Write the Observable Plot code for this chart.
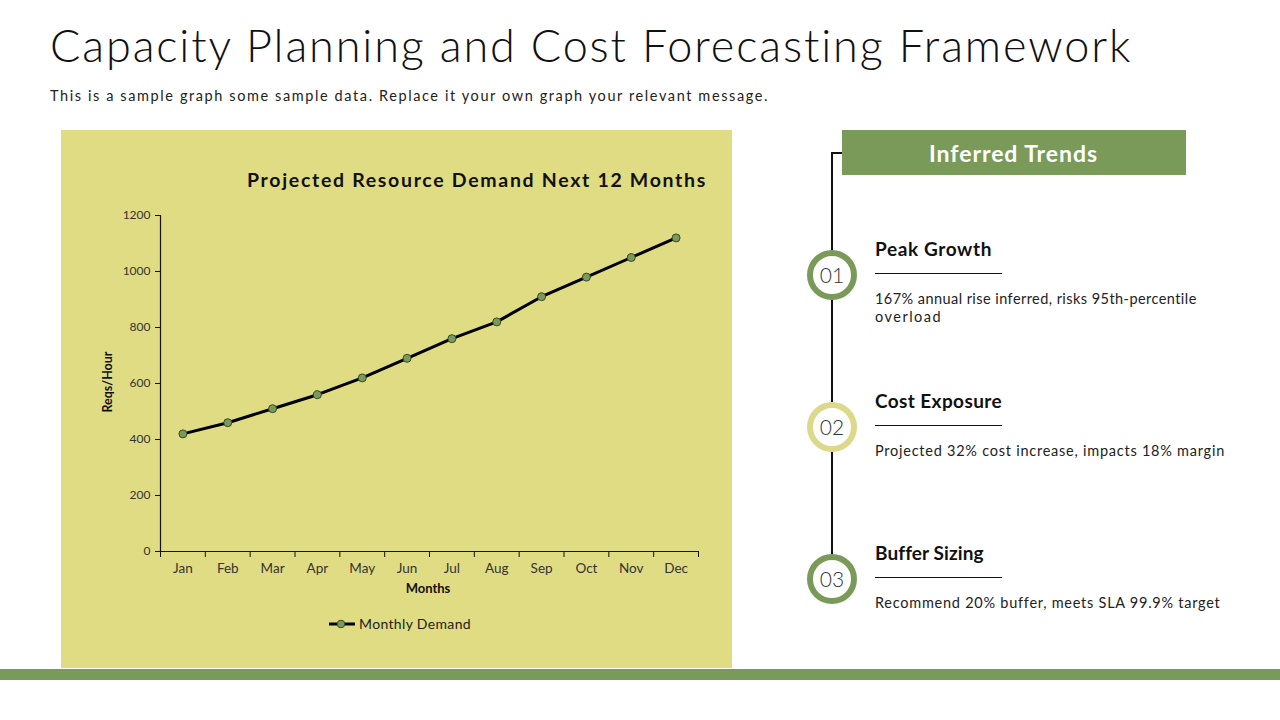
<!DOCTYPE html>
<html>
<head>
<meta charset="utf-8">
<script src="https://cdn.jsdelivr.net/npm/d3@7"></script>
<script src="https://cdn.jsdelivr.net/npm/@observablehq/plot@0.6"></script>
<style>
  html, body { margin: 0; padding: 0; background: #fff; }
  body { width: 1280px; height: 720px; position: relative; overflow: hidden; font-family: "Lato", "Open Sans", sans-serif; color: #111; }
  .abs { position: absolute; white-space: nowrap; }
  #title { left: 50px; top: 17px; font-size: 45px; font-weight: 300; color: #111; line-height: 56px; }
  #subtitle { left: 50px; top: 87px; font-size: 14.5px; color: #222; line-height: 18px; }
  #panel { left: 61px; top: 130px; width: 671px; height: 538px; background: #e0dc84; }
  #chart { left: 61px; top: 130px; }
  #ctitle { left: 247px; top: 167px; font-size: 19.5px; font-weight: 700; color: #111; line-height: 26px; }
  #ylab { left: 107px; top: 382px; font-size: 12.5px; font-weight: 700; transform: translate(-50%,-50%) rotate(-90deg); }
  #xlab { left: 428px; top: 588px; font-size: 13px; font-weight: 700; transform: translate(-50%,-50%); }
  #legend { left: 329px; top: 615px; font-size: 14px; color: #222; display: flex; align-items: center; gap: 4px; }
  #bar { left: 0; top: 669px; width: 1280px; height: 11px; background: #7a9a5a; }
  #header { left: 842px; top: 130px; width: 344px; height: 45px; background: #7a9a5a; }
  #htext { left: 929px; top: 139px; color: #fff; font-weight: 700; font-size: 23px; line-height: 28px; }
  #vline { left: 831px; top: 152px; width: 1.5px; height: 430px; background: #111; }
  #hline { left: 831px; top: 152px; width: 11px; height: 1.5px; background: #111; }
  .circ { width: 38px; height: 38px; border-radius: 50%; background: #fff; border: 6px solid #7a9a5a; font-size: 21px; color: #333; text-align: center; line-height: 38px; font-weight: 300; }
  .head { font-size: 19px; font-weight: 700; color: #111; line-height: 24px; }
  .rule { width: 127px; height: 1.2px; background: #111; }
  .body { font-size: 14.5px; color: #222; line-height: 18px; }
</style>
</head>
<body>
<div id="panel" class="abs"></div>
<div id="chart" class="abs"></div>
<div id="title" class="abs">Capacity Planning and Cost Forecasting Framework</div>
<div id="subtitle" class="abs">This is a sample graph some sample data. Replace it your own graph your relevant message.</div>
<div id="ctitle" class="abs">Projected Resource Demand Next 12 Months</div>
<div id="ylab" class="abs">Reqs/Hour</div>
<div id="xlab" class="abs">Months</div>
<div id="legend" class="abs">
  <svg width="26" height="10"><line x1="0" y1="5" x2="26" y2="5" stroke="#000" stroke-width="3"/><circle cx="12" cy="5" r="3.8" fill="#7a9a5a" stroke="#3a4a2a" stroke-width="1"/></svg>
  <span id="legtext">Monthly Demand</span>
</div>
<div id="bar" class="abs"></div>

<div id="header" class="abs"></div>
<div id="htext" class="abs">Inferred Trends</div>
<div id="vline" class="abs"></div>
<div id="hline" class="abs"></div>
<div id="trends"></div>

<script>
const months = ["Jan","Feb","Mar","Apr","May","Jun","Jul","Aug","Sep","Oct","Nov","Dec"];
const demand = [420, 460, 510, 560, 620, 690, 760, 820, 910, 980, 1050, 1120];
const yTicks = [0, 200, 400, 600, 800, 1000, 1200];
const seriesName = "Monthly Demand";

const trendNums = ["01", "02", "03"];
const trendTitles = ["Peak Growth", "Cost Exposure", "Buffer Sizing"];
const trendLines = [
  ["167% annual rise inferred, risks 95th-percentile", "overload"],
  ["Projected 32% cost increase, impacts 18% margin"],
  ["Recommend 20% buffer, meets SLA 99.9% target"]
];
const trendColors = ["#7a9a5a", "#dcd98a", "#7a9a5a"];

const data = months.map((m, i) => ({month: m, pos: i + 0.5, value: demand[i]}));

const chart = Plot.plot({
  width: 671,
  height: 538,
  marginLeft: 99,
  marginRight: 34,
  marginTop: 85,
  marginBottom: 117,
  style: {background: "transparent", fontFamily: "Lato, sans-serif", fontSize: "11px", color: "#333", overflow: "visible"},
  x: {type: "linear", domain: [0, 12], axis: null},
  y: {domain: [0, 1200], axis: null},
  marks: [
    Plot.axisY({ticks: yTicks, tickSize: 5, tickPadding: 5, tickFormat: d => String(d), label: null, fontSize: 12, stroke: "#111"}),
    Plot.axisX({ticks: d3.range(13), tickSize: 6, tickFormat: () => "", label: null, stroke: "#111"}),
    Plot.axisX({ticks: data.map(d => d.pos), tickSize: 0, tickPadding: 12, tickFormat: d => months[Math.round(d - 0.5)], label: null, fontSize: 13.5}),
    Plot.ruleX([0], {stroke: "#111", strokeWidth: 1.2}),
    Plot.ruleY([0], {stroke: "#111", strokeWidth: 1.2}),
    Plot.line(data, {x: "pos", y: "value", stroke: "#000", strokeWidth: 3}),
    Plot.dot(data, {x: "pos", y: "value", r: 4, fill: "#7a9a5a", stroke: "#3a4a2a", strokeWidth: 1})
  ]
});
document.getElementById("chart").appendChild(chart);

function fitEl(el, target) {
  const w = el.getBoundingClientRect().width;
  const n = el.textContent.length;
  el.style.letterSpacing = ((target - w) / n) + "px";
}
function fitWidth(id, target) { fitEl(document.getElementById(id), target); }

const trendsEl = document.getElementById("trends");
const centers = [275, 427, 579];
const headW = [117, 127, 108];
const bodyW = [[322, 67], [350], [345]];
trendNums.forEach((n, i) => {
  const cy = centers[i];
  const c = document.createElement("div");
  c.className = "abs circ";
  c.style.left = (832 - 25) + "px";
  c.style.top = (cy - 25) + "px";
  c.style.borderColor = trendColors[i];
  c.textContent = n;
  trendsEl.appendChild(c);

  const h = document.createElement("div");
  h.className = "abs head";
  h.style.left = "875px";
  h.style.top = (cy - 38) + "px";
  h.textContent = trendTitles[i];
  trendsEl.appendChild(h);
  fitEl(h, headW[i]);

  const r = document.createElement("div");
  r.className = "abs rule";
  r.style.left = "875px";
  r.style.top = (cy - 2) + "px";
  trendsEl.appendChild(r);

  trendLines[i].forEach((t, j) => {
    const b = document.createElement("div");
    b.className = "abs body";
    b.style.left = "875px";
    b.style.top = (cy + 15 + j * 18) + "px";
    b.textContent = t;
    trendsEl.appendChild(b);
    fitEl(b, bodyW[i][j]);
  });
});

fitWidth("title", 1083);
fitWidth("subtitle", 719);
fitWidth("ctitle", 460);
fitWidth("htext", 169);
fitWidth("legtext", 112);
</script>
</body>
</html>
